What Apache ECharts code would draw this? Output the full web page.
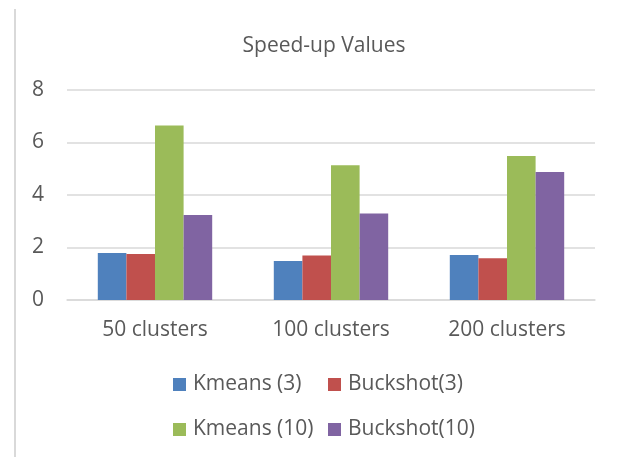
<!DOCTYPE html>
<html>
<head>
<meta charset="utf-8">
<script src="https://cdn.jsdelivr.net/npm/echarts@6/dist/echarts.min.js"></script>
<style>html,body{margin:0;padding:0;background:#fff}#c{width:622px;height:457px}</style>
</head>
<body>
<div id="c"></div>
<script>
const categories = ['50 clusters', '100 clusters', '200 clusters'];
const seriesNames = ['Kmeans (3)', 'Buckshot(3)', 'Kmeans (10)', 'Buckshot(10)'];
const kmeans3 = [1.79, 1.49, 1.71];
const buckshot3 = [1.75, 1.70, 1.59];
const kmeans10 = [6.65, 5.13, 5.49];
const buckshot10 = [3.24, 3.30, 4.88];
const yTicks = [0, 2, 4, 6, 8];

const colors = ['#4f81bd', '#c0504d', '#9bbb59', '#8064a2'];
const values = [kmeans3, buckshot3, kmeans10, buckshot10];
const font = '"Open Sans", sans-serif';
const txt = '#595959';

const chart = echarts.init(document.getElementById('c'), null, {renderer: 'canvas'});
const legendPos = [[173, 374], [328, 374], [173, 419], [328, 419]];
chart.setOption({
  animation: false,
  color: colors,
  title: {
    text: 'Speed-up Values',
    left: 319, top: 31, textAlign: 'center',
    textStyle: {fontFamily: font, fontSize: 21, fontWeight: 'normal', color: txt}
  },
  graphic: [{
    type: 'line', shape: {x1: 15, y1: 9, x2: 15, y2: 457},
    style: {stroke: '#d9d9d9', lineWidth: 2}
  }],
  legend: seriesNames.map((n, i) => ({
    data: [n], left: legendPos[i][0], top: legendPos[i][1],
    itemWidth: 13, itemHeight: 13, itemGap: 0, padding: 0,
    icon: 'rect',
    textStyle: {fontFamily: font, fontSize: 21, color: txt, padding: [0, 0, 0, 2]}
  })),
  grid: {left: 67, right: 27, top: 90, bottom: 157},
  xAxis: {
    type: 'category', data: categories,
    axisLine: {lineStyle: {color: '#d9d9d9', width: 1.5}},
    axisTick: {show: false},
    axisLabel: {fontFamily: font, fontSize: 21, color: txt, margin: 20}
  },
  yAxis: {
    type: 'value', min: 0, max: 8, interval: 2,
    axisLine: {show: false}, axisTick: {show: false},
    axisLabel: {fontFamily: font, fontSize: 21, color: txt, margin: 23,
      formatter: v => yTicks.includes(v) ? String(v) : ''},
    splitLine: {lineStyle: {color: '#d9d9d9', width: 1.5}}
  },
  series: seriesNames.map((n, i) => ({
    name: n, type: 'bar', data: values[i],
    barGap: '0%', barCategoryGap: '35%'
  }))
});
</script>
</body>
</html>
